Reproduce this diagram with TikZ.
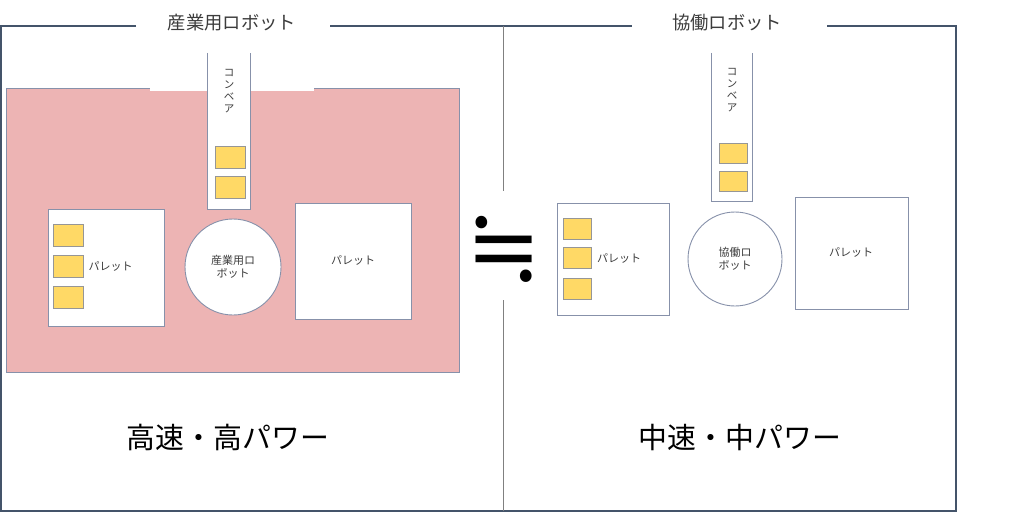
\documentclass[tikz,border=0pt]{standalone}
\usepackage{fontspec}
\setmainfont{Noto Sans CJK JP}
\newfontfamily\symfont{DejaVu Serif}
\definecolor{framec}{RGB}{68,84,106}
\definecolor{edgec}{RGB}{135,145,170}
\definecolor{divc}{RGB}{128,128,128}
\definecolor{pinkf}{RGB}{237,180,180}
\definecolor{yell}{RGB}{255,217,102}
\definecolor{itemedge}{RGB}{150,150,150}
\definecolor{txt}{RGB}{60,60,60}
\begin{document}
\begin{tikzpicture}[x=1pt,y=-1pt,
  frameline/.style={draw=framec,line width=1.4pt},
  divline/.style={draw=divc,line width=1pt},
  boxc/.style={draw=edgec,fill=white,line width=0.9pt,inner sep=0pt},
  item/.style={draw=itemedge,fill=yell,line width=0.8pt,inner sep=0pt,minimum width=30pt,minimum height=22pt},
  robot/.style={circle,draw=edgec,fill=white,line width=0.9pt,inner sep=0pt,minimum size=#1,align=center,text=txt,font=\fontsize{11}{13}\selectfont},
  small/.style={text=txt,font=\fontsize{11}{13}\selectfont,inner sep=0pt},
  title/.style={text=txt,font=\fontsize{18.3}{20}\selectfont,inner sep=0pt},
  big/.style={text=black,font=\fontsize{28.9}{30}\selectfont,inner sep=0pt},
  convtext/.style={text=txt,font=\fontsize{10.5}{12}\selectfont,align=center,inner sep=0pt}]
\useasboundingbox (0,0) rectangle (1024,513);
\fill[white] (0,0) rectangle (1024,513);

% titles
\node[title] (t1) at (232,23) {産業用ロボット};
\node[title] (t2) at (727,23) {協働ロボット};

% outer frame
\draw[frameline] (136,26) -- (1,26) -- (1,511) -- (956,511) -- (956,26) -- (827,26);
\draw[frameline] (330,26) -- (632,26);

% approx symbol and divider
\node[inner sep=0pt,font=\symfont\fontsize{64}{64}\selectfont] (approx) at (504,249) {\scalebox{1.4}[1.5]{≒}};
\draw[divline] (503,26) -- (503,191);
\draw[divline] (503,300) -- (503,511);

% pink zone
\fill[pinkf] (6,88) rectangle (459,372);
\draw[draw=edgec,line width=0.9pt] (150,88) -- (6,88) -- (6,372) -- (459,372) -- (459,88) -- (314,88);
\fill[white] (150,86) rectangle (314,91);

% ---- left side ----
\node[fill=white,inner sep=0pt,minimum width=42pt,minimum height=156pt] (conv1) at (229,131) {};
\draw[draw=edgec,line width=0.9pt] (conv1.north west) |- (conv1.south east) -- (conv1.north east);
\node[convtext] (conv1t) at (229,91) {コ\\ン\\ベ\\ア};
\node[item] (c1a) at (230,157) {};
\node[item] (c1b) at (230,187) {};

\node[boxc,minimum width=116pt,minimum height=117pt] (p1) at (106,267.5) {};
\node[item] (p1a) at (68,235.5) {};
\node[item] (p1b) at (68,266) {};
\node[item] (p1c) at (68,297) {};
\node[small] (p1t) at (110.5,266) {パレット};

\node[robot=96pt] (r1) at (233,267) {産業用ロ\\ボット};

\node[boxc,minimum width=116pt,minimum height=116pt] (p2) at (353,261) {};
\node[small] (p2t) at (353,260) {パレット};

% ---- right side ----
\node[fill=white,inner sep=0pt,minimum width=40pt,minimum height=148pt] (conv2) at (732,127) {};
\draw[draw=edgec,line width=0.9pt] (conv2.north west) |- (conv2.south east) -- (conv2.north east);
\node[convtext] (conv2t) at (732,90) {コ\\ン\\ベ\\ア};
\node[item,minimum width=28pt,minimum height=20pt] (c2a) at (733,153) {};
\node[item,minimum width=28pt,minimum height=20pt] (c2b) at (733,181) {};

\node[boxc,minimum width=112pt,minimum height=112pt] (p3) at (613,259) {};
\node[item,minimum width=28pt,minimum height=21pt] (p3a) at (577,228.5) {};
\node[item,minimum width=28pt,minimum height=21pt] (p3b) at (577,257.5) {};
\node[item,minimum width=28pt,minimum height=21pt] (p3c) at (577,288.5) {};
\node[small] (p3t) at (619,258) {パレット};

\node[robot=94pt] (r2) at (735,259) {協働ロ\\ボット};

\node[boxc,minimum width=113pt,minimum height=112pt] (p4) at (851.5,253) {};
\node[small] (p4t) at (851,252) {パレット};

% bottom labels
\node[big] (b1) at (228,437) {高速・高パワー};
\node[big] (b2) at (740,437) {中速・中パワー};
\end{tikzpicture}
\end{document}
